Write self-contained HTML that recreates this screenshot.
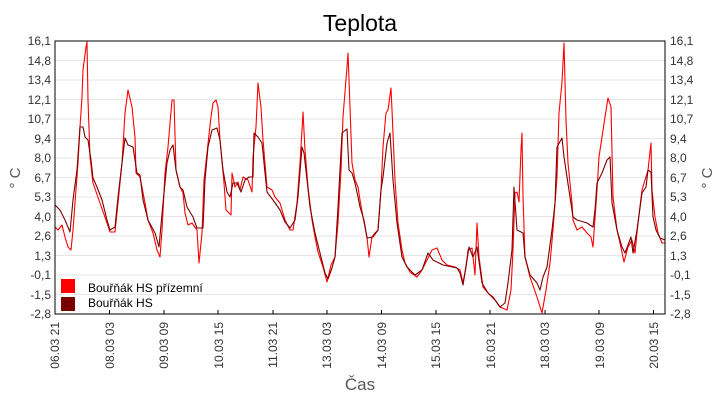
<!DOCTYPE html>
<html><head><meta charset="utf-8"><style>body{margin:0;background:#fff}svg{display:block;font-family:"Liberation Sans",sans-serif}</style></head><body>
<svg width="720" height="400" viewBox="0 0 720 400" xmlns="http://www.w3.org/2000/svg">
<rect width="720" height="400" fill="#fff"/>
<text x="360" y="31" font-size="23" text-anchor="middle" fill="#000">Teplota</text>
<g stroke="#e6e6e6" stroke-width="1">
<line x1="55" x2="665" y1="60.5" y2="60.5"/><line x1="55" x2="665" y1="80" y2="80"/><line x1="55" x2="665" y1="99.5" y2="99.5"/><line x1="55" x2="665" y1="119" y2="119"/><line x1="55" x2="665" y1="138.5" y2="138.5"/><line x1="55" x2="665" y1="158" y2="158"/><line x1="55" x2="665" y1="177.5" y2="177.5"/><line x1="55" x2="665" y1="197" y2="197"/><line x1="55" x2="665" y1="216.5" y2="216.5"/><line x1="55" x2="665" y1="236" y2="236"/><line x1="55" x2="665" y1="255.5" y2="255.5"/><line x1="55" x2="665" y1="275" y2="275"/><line x1="55" x2="665" y1="294.5" y2="294.5"/>
</g>
<g font-size="12" fill="#333" text-anchor="end">
<text x="51" y="45">16,1</text><text x="51" y="65">14,8</text><text x="51" y="84">13,4</text><text x="51" y="104">12,1</text><text x="51" y="123">10,7</text><text x="51" y="143">9,4</text><text x="51" y="162">8,0</text><text x="51" y="182">6,7</text><text x="51" y="201">5,3</text><text x="51" y="221">4,0</text><text x="51" y="240">2,6</text><text x="51" y="260">1,3</text><text x="51" y="279">-0,1</text><text x="51" y="299">-1,5</text><text x="51" y="318">-2,8</text>
</g>
<g font-size="12" fill="#333" text-anchor="start">
<text x="670" y="45">16,1</text><text x="670" y="65">14,8</text><text x="670" y="84">13,4</text><text x="670" y="104">12,1</text><text x="670" y="123">10,7</text><text x="670" y="143">9,4</text><text x="670" y="162">8,0</text><text x="670" y="182">6,7</text><text x="670" y="201">5,3</text><text x="670" y="221">4,0</text><text x="670" y="240">2,6</text><text x="670" y="260">1,3</text><text x="670" y="279">-0,1</text><text x="670" y="299">-1,5</text><text x="670" y="318">-2,8</text>
</g>
<text transform="translate(20,178) rotate(-90)" font-size="15" fill="#555" text-anchor="middle">° C</text>
<text transform="translate(712,178) rotate(-90)" font-size="15" fill="#555" text-anchor="middle">° C</text>
<g font-size="12" fill="#333" text-anchor="end">
<text transform="translate(59,322) rotate(-90)">06.03 21</text>
<text transform="translate(114,322) rotate(-90)">08.03 03</text>
<text transform="translate(168,322) rotate(-90)">09.03 09</text>
<text transform="translate(223,322) rotate(-90)">10.03 15</text>
<text transform="translate(277,322) rotate(-90)">11.03 21</text>
<text transform="translate(331,322) rotate(-90)">13.03 03</text>
<text transform="translate(386,322) rotate(-90)">14.03 09</text>
<text transform="translate(440,322) rotate(-90)">15.03 15</text>
<text transform="translate(495,322) rotate(-90)">16.03 21</text>
<text transform="translate(549,322) rotate(-90)">18.03 03</text>
<text transform="translate(604,322) rotate(-90)">19.03 09</text>
<text transform="translate(658,322) rotate(-90)">20.03 15</text>
</g>
<text x="360" y="390" font-size="17" fill="#555" text-anchor="middle">Čas</text>
<defs><clipPath id="c"><rect x="55" y="41" width="610" height="273"/></clipPath></defs>
<g clip-path="url(#c)" fill="none" stroke-width="1.1" stroke-linejoin="round">
<polyline stroke="#ff0000" points="55,227 58,230 62,225 65,237 68,247 71,250 73,230 75,203 78,163 80,127 82,97 83,70 86,47 87,42 88,100 90,157 93,183 100,203 107,223 110,232 115,232 118,203 122,163 125,113 128,90 132,107 135,137 136,173 140,177 145,203 148,220 153,233 157,250 160,257 162,230 165,173 168,147 172,100 174,100 176,170 180,187 183,193 185,213 188,225 192,223 197,230 199,263 202,233 204,180 207,153 211,117 213,103 216,100 218,107 220,140 224,183 226,210 231,215 232,173 235,187 238,182 240,190 243,177 248,180 252,192 253,157 256,127 258,83 261,107 263,140 267,187 272,190 275,197 280,203 285,220 290,230 293,230 297,203 300,163 302,130 303,112 305,150 308,187 312,220 315,237 318,252 323,267 327,282 331,265 335,257 338,223 341,170 343,117 347,67 348,53 350,107 352,163 355,180 358,187 360,200 363,217 367,237 369,257 372,237 375,233 378,230 381,190 383,147 386,113 388,110 391,88 392,110 395,180 398,223 402,250 405,263 410,272 417,277 422,270 427,260 432,250 437,248 442,260 447,265 455,267 460,270 463,283 466,267 468,250 472,248 475,275 477,223 479,257 483,287 488,293 493,297 500,307 507,310 511,290 513,250 515,193 517,192 519,202 521,150 522,133 523,197 525,257 530,277 537,297 542,313 546,290 550,263 553,230 557,177 559,113 562,82 564,43 566,120 568,163 572,203 573,220 577,230 582,227 587,233 591,237 593,247 597,190 599,157 602,137 605,117 608,98 611,107 613,197 617,230 620,243 624,262 628,247 632,240 635,253 638,223 642,190 645,180 648,170 651,143 652,190 655,217 658,233 662,243 665,243"/>
<polyline stroke="#7a0000" points="55,205 60,210 65,220 70,232 73,200 77,170 80,127 83,127 85,137 88,140 91,160 93,178 97,187 102,200 107,220 110,230 115,227 118,197 122,163 125,138 128,145 133,147 137,173 140,175 143,200 148,220 155,233 159,247 163,203 167,163 170,150 173,145 176,170 180,187 183,190 187,207 193,217 197,228 203,228 205,180 208,147 212,130 217,128 220,140 223,170 227,192 230,197 233,183 237,183 241,192 245,180 249,177 253,177 254,133 258,137 262,143 265,173 267,192 273,200 280,210 285,222 290,228 295,220 298,197 302,147 304,153 307,180 310,207 315,233 320,253 325,273 328,279 332,268 335,257 338,207 342,133 347,129 349,170 352,173 355,183 358,197 360,207 364,220 367,238 373,237 378,230 381,190 383,177 387,143 390,133 393,180 397,223 402,257 407,267 415,275 422,270 428,253 433,260 443,265 457,268 460,273 463,285 467,260 469,247 473,257 477,247 482,283 488,293 495,300 500,307 505,303 508,283 512,250 514,187 517,230 523,233 525,257 530,275 537,283 540,290 543,277 547,267 552,230 555,203 557,147 562,138 564,157 567,177 570,197 573,217 577,220 587,223 593,227 595,210 597,183 602,173 607,160 610,157 612,203 617,230 622,247 625,253 631,237 633,253 637,230 642,193 646,187 648,170 651,172 653,217 656,230 660,238 665,240"/>
</g>
<rect x="55" y="41" width="610" height="273" fill="none" stroke="#000" stroke-width="1"/>
<g stroke="#000"><line x1="109.5" x2="109.5" y1="310" y2="314"/><line x1="164" x2="164" y1="310" y2="314"/><line x1="218" x2="218" y1="310" y2="314"/><line x1="273" x2="273" y1="310" y2="314"/><line x1="327" x2="327" y1="310" y2="314"/><line x1="381.5" x2="381.5" y1="310" y2="314"/><line x1="436" x2="436" y1="310" y2="314"/><line x1="490" x2="490" y1="310" y2="314"/><line x1="545" x2="545" y1="310" y2="314"/><line x1="599" x2="599" y1="310" y2="314"/><line x1="653.5" x2="653.5" y1="310" y2="314"/></g>
<rect x="61" y="279" width="14" height="14" fill="#ff0000"/>
<rect x="61" y="297" width="14" height="14" fill="#7a0000"/>
<text x="88" y="292" font-size="12" fill="#000">Bouřňák HS přízemní</text>
<text x="88" y="307" font-size="12" fill="#000">Bouřňák HS</text>
</svg>
</body></html>
